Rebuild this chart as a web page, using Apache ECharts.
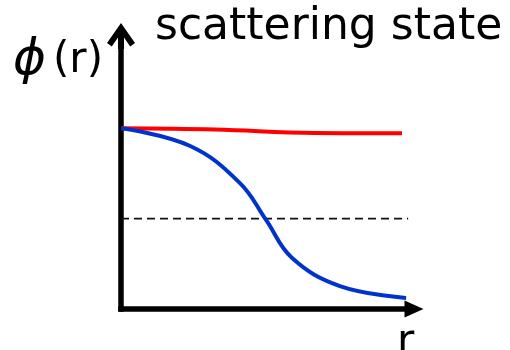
<!DOCTYPE html>
<html>
<head>
<meta charset="utf-8">
<script src="https://cdn.jsdelivr.net/npm/echarts@6/dist/echarts.min.js"></script>
<style>
  html, body { margin: 0; padding: 0; background: #fff; }
  #chart { width: 510px; height: 350px; }
</style>
</head>
<body>
<div id="chart"></div>
<script>
// Radial coordinate r and wave-function samples phi(r)
const blueR   = [0, 2.36, 4.06, 4.95, 5.84, 7.47, 9.73];
const bluePhi = [1.0, 0.902, 0.697, 0.493, 0.282, 0.127, 0.061];

const redR   = [0, 3.21, 6.62, 9.59];
const redPhi = [1.0, 0.993, 0.974, 0.973];

// Horizontal reference level
const refLevel = 0.5;
const refR = [0, 9.8];

const titleText = 'scattering state';
const phiSymbol = 'ϕ';
const phiArg = '(r)';
const xName = 'r';

const pairs = (xs, ys) => xs.map((x, i) => [x, ys[i]]);

// Open chevron arrow head with a stem, pointing up (28 x 26 box)
const chevron = 'path://M14,0 L28,20 L23.2,23.4 L17,14.5 L17,26 L11,26 L11,14.5 L4.8,23.4 L0,20 Z';

const chart = echarts.init(document.getElementById('chart'), null, { renderer: 'canvas' });
chart.setOption({
  animation: false,
  backgroundColor: '#ffffff',
  title: {
    text: titleText,
    left: 155,
    top: 6,
    padding: 0,
    textStyle: { fontFamily: 'DejaVu Sans', fontSize: 44, fontWeight: 'normal', color: '#000' }
  },
  grid: { left: 121, right: 96, top: 38, bottom: 41 },
  xAxis: {
    type: 'value', min: 0, max: 10,
    axisLine: {
      show: true,
      symbol: ['none', 'triangle'],
      symbolSize: [17, 19],
      lineStyle: { color: '#000', width: 5.5, cap: 'square' }
    },
    axisTick: { show: false }, axisLabel: { show: false }, splitLine: { show: false }
  },
  yAxis: {
    type: 'value', min: 0, max: 1.5,
    axisLine: {
      show: true,
      symbol: ['none', chevron],
      symbolSize: [28, 26],
      symbolOffset: [0, 2],
      lineStyle: { color: '#000', width: 5.5, cap: 'square' }
    },
    axisTick: { show: false }, axisLabel: { show: false }, splitLine: { show: false }
  },
  graphic: [
    {
      type: 'text', left: 13, top: 36,
      style: {
        text: '{phi|' + phiSymbol + '}{arg|' + phiArg + '}',
        rich: {
          phi: { fontFamily: 'DejaVu Sans', fontSize: 50, fontStyle: 'italic', fill: '#000', padding: [0, 7, 0, 0] },
          arg: { fontFamily: 'DejaVu Sans', fontSize: 42, fill: '#000' }
        }
      }
    },
    {
      type: 'text', left: 397, top: 322,
      style: { text: xName, font: '42px "DejaVu Sans"', fill: '#000' }
    }
  ],
  series: [
    {
      type: 'line', data: pairs(refR, [refLevel, refLevel]),
      symbol: 'none', z: 1,
      lineStyle: { color: '#111', width: 1.8, type: [8, 5] }
    },
    {
      type: 'line', data: pairs(redR, redPhi),
      symbol: 'none', smooth: 0.4, z: 2,
      lineStyle: { color: '#ff0000', width: 4 }
    },
    {
      type: 'line', data: pairs(blueR, bluePhi),
      symbol: 'none', smooth: 0.4, z: 3,
      lineStyle: { color: '#0033cc', width: 4 }
    }
  ]
});
</script>
</body>
</html>
